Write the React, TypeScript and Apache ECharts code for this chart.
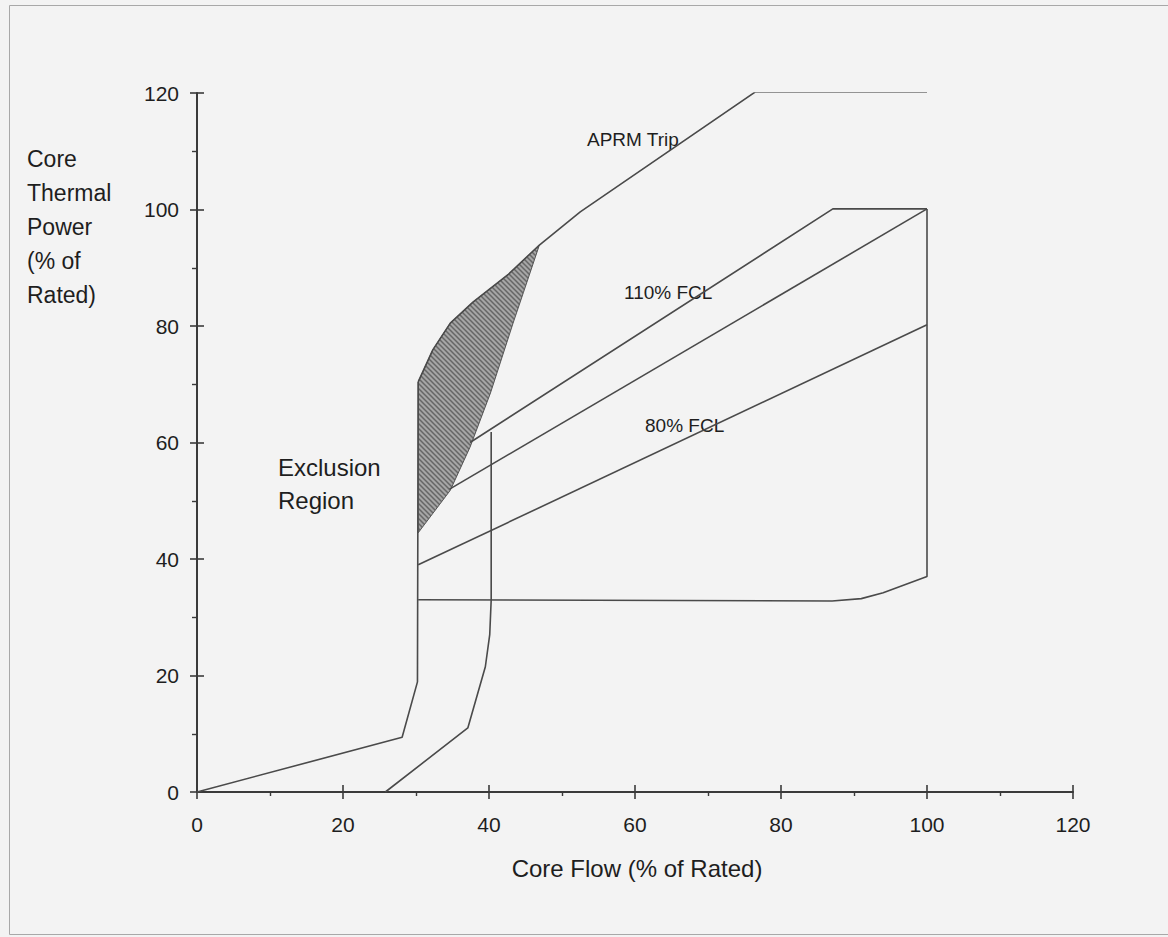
import React, { useEffect, useRef } from "react";
import * as echarts from "echarts";

type Pt = [number, number];

// Axis ticks
const X_MIN = 0, X_MAX = 120, X_STEP = 20;
const Y_MIN = 0, Y_MAX = 120, Y_STEP = 20;

// Lines (core flow %, core thermal power %)
const aprmTrip: Pt[] = [[30.3, 70.4], [32.3, 75.9], [34.7, 80.5], [37.8, 84.1], [42.6, 88.8], [46.9, 93.9], [52.5, 99.6], [76.5, 120.2], [100, 120.2]];
const fcl110: Pt[] = [[37.4, 60], [87.1, 100.1], [100, 100.1]];
const fclRated: Pt[] = [[34.6, 52], [100, 100.1]];
const fcl80: Pt[] = [[30.3, 39], [100, 80.2]];
const naturalCirc: Pt[] = [[0, 0], [28.1, 9.4], [30.2, 18.9], [30.3, 70.4]];
const minPumpSpeed: Pt[] = [[25.8, 0], [37.1, 11], [39.5, 21.5], [40.1, 27], [40.3, 33], [40.3, 61.8]];
const cavitation: Pt[] = [[30.3, 33], [87, 32.8], [91, 33.2], [94, 34.2], [100, 37], [100, 100.1]];
const exclusionHatch: Pt[] = [[30.3, 44.5], [30.3, 70.4], [32.3, 75.9], [34.7, 80.5], [37.8, 84.1], [42.6, 88.8], [46.9, 93.9], [44.7, 85.7], [43.3, 80.5], [40.2, 68.5], [37.4, 59.2], [34.7, 51.8]];
const yTitleLines = ["Core", "Thermal", "Power", "(% of", "Rated)"];

const LINE = "#4a4a4a";
const TXT = "#1e1e1e";
const FONT = "'Liberation Sans', Arial, sans-serif";

function makePattern(): any {
  const c = document.createElement("canvas");
  c.width = 5; c.height = 5;
  const g = c.getContext("2d")!;
  g.fillStyle = "#a6a6a6";
  g.fillRect(0, 0, 5, 5);
  g.strokeStyle = "#666666";
  g.lineWidth = 1.5;
  g.beginPath();
  g.moveTo(-1, -1); g.lineTo(6, 6);
  g.moveTo(-1, 4); g.lineTo(1, 6);
  g.moveTo(4, -1); g.lineTo(6, 1);
  g.stroke();
  return { image: c, repeat: "repeat" };
}

export default function App() {
  const ref = useRef<HTMLDivElement>(null);
  useEffect(() => {
    if (!ref.current) return;
    const chart = echarts.init(ref.current, undefined, { renderer: "svg" });
    const lineSeries = (name: string, data: Pt[]) => ({
      name, type: "line", data, symbol: "none", xAxisIndex: 0, yAxisIndex: 0,
      lineStyle: { color: LINE, width: 1.6 }, silent: true, z: 3,
    });
    const axisBase = (isX: boolean) => ({
      type: "value",
      min: isX ? X_MIN : Y_MIN,
      max: isX ? X_MAX : Y_MAX,
      interval: isX ? X_STEP : Y_STEP,
      splitLine: { show: false },
    });
    const fill = makePattern();
    const label = (text: string, x: number, y: number, size: number, align = "left") => ({
      type: "text", x, y,
      style: { text, fontSize: size, fill: TXT, fontFamily: FONT, align, verticalAlign: "middle" },
    });
    chart.setOption({
      animation: false,
      backgroundColor: "#f3f3f3",
      grid: { left: 197, right: 95, top: 93, bottom: 145 },
      xAxis: [
        {
          ...axisBase(true), position: "bottom",
          axisLine: { show: true, lineStyle: { color: "#3a3a3a", width: 2 } },
          axisTick: { show: true, length: 7, lineStyle: { color: "#3a3a3a", width: 1.6 } },
          minorTick: { show: true, splitNumber: 2, length: 4, lineStyle: { color: "#3a3a3a", width: 1.4 } },
          axisLabel: { fontSize: 21, color: TXT, fontFamily: FONT, margin: 22 },
        },
        {
          ...axisBase(true), position: "bottom",
          axisLine: { show: false },
          axisTick: { show: true, inside: true, length: 7, lineStyle: { color: "#3a3a3a", width: 1.6 } },
          axisLabel: { show: false },
        },
      ],
      yAxis: [
        {
          ...axisBase(false), position: "left",
          axisLine: { show: true, lineStyle: { color: "#3a3a3a", width: 2 } },
          axisTick: { show: true, length: 7, lineStyle: { color: "#3a3a3a", width: 1.6 } },
          minorTick: { show: true, splitNumber: 2, length: 5, lineStyle: { color: "#3a3a3a", width: 1.4 } },
          axisLabel: { fontSize: 21, color: TXT, fontFamily: FONT, margin: 18 },
        },
        {
          ...axisBase(false), position: "left",
          axisLine: { show: false },
          axisTick: { show: true, inside: true, length: 7, lineStyle: { color: "#3a3a3a", width: 1.6 } },
          axisLabel: { show: false },
        },
      ],
      series: [
        {
          name: "Exclusion Region hatch", type: "custom", xAxisIndex: 0, yAxisIndex: 0,
          data: [exclusionHatch[0]], silent: true, z: 2,
          renderItem: (_p: any, api: any) => ({
            type: "polygon",
            shape: { points: exclusionHatch.map((p) => api.coord(p)) },
            style: { fill, stroke: "#555", lineWidth: 1 },
          }),
        },
        lineSeries("APRM Trip", aprmTrip),
        lineSeries("110% FCL", fcl110),
        lineSeries("100% FCL", fclRated),
        lineSeries("80% FCL", fcl80),
        lineSeries("Natural Circulation", naturalCirc),
        lineSeries("Minimum Pump Speed", minPumpSpeed),
        lineSeries("Cavitation", cavitation),
      ],
      graphic: [
        { type: "rect", left: 7, top: 3, shape: { width: 1175, height: 929 }, style: { fill: "none", stroke: "#a8a8a8", lineWidth: 1 }, silent: true },
        ...yTitleLines.map((t, i) => label(t, 27, 159 + i * 34, 23)),
        label("APRM Trip", 587, 139, 19),
        label("110% FCL", 624, 292, 19),
        label("80% FCL", 645, 425, 19),
        label("Exclusion", 278, 467, 24),
        label("Region", 278, 500, 24),
        label("Core Flow (% of Rated)", 637, 868, 24, "center"),
      ],
    });
    return () => chart.dispose();
  }, []);
  return (
    <div style={{ position: "fixed", left: 0, top: 0, width: 1168, height: 937, background: "#f3f3f3" }}>
      <div ref={ref} style={{ width: 1168, height: 937 }} />
    </div>
  );
}
